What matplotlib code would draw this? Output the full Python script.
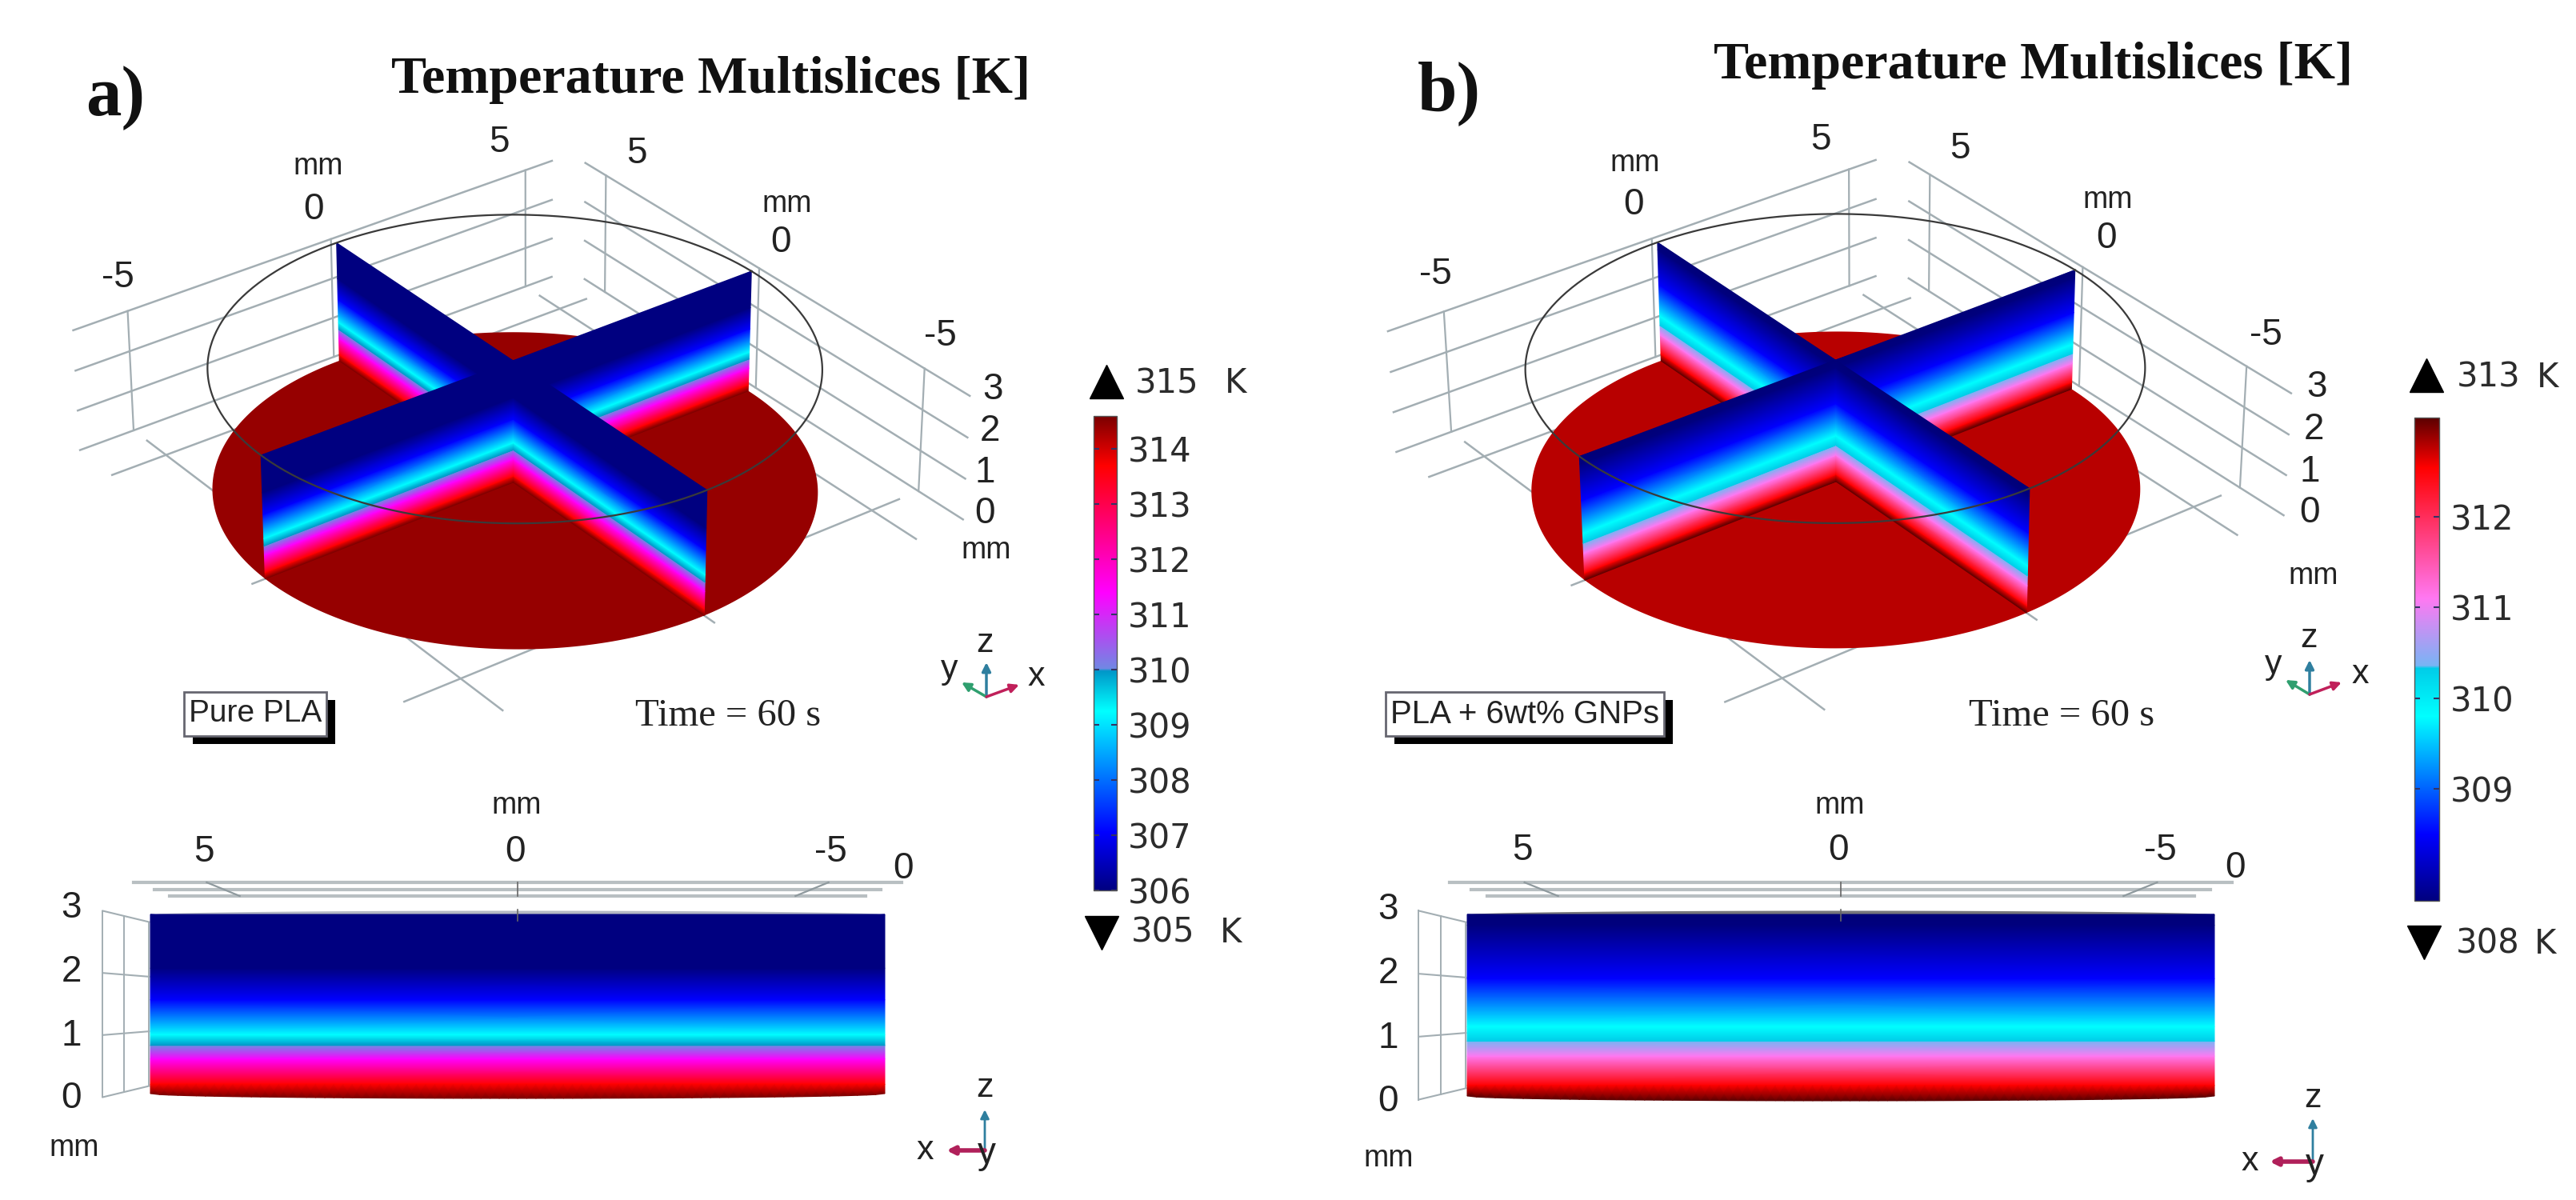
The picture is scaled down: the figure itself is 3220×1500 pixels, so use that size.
import numpy as np
import matplotlib
matplotlib.use("Agg")
import matplotlib.pyplot as plt
from matplotlib.colors import LinearSegmentedColormap, Normalize
from matplotlib.cm import ScalarMappable
import logging

logging.getLogger("matplotlib.font_manager").setLevel(logging.ERROR)

SANS = "Liberation Sans"
SERIF = "Liberation Serif"

# temperature profile through the thickness, z in mm, T in K
z_a = [0, 0.157, 0.58, 0.80, 0.81, 0.985, 1.57, 2.1, 3]
T_a = [314.6, 313.7, 311.4, 310.02, 309.98, 309.25, 307.05, 306, 306]
col_a = ["#7a0000", "#ff0000", "#ff00ff", "#7088e4", "#0096c8", "#00ffff", "#0000ff", "#000080", "#000080"]

z_b = [0, 0.176, 0.66, 0.90, 0.91, 1.147, 1.94, 2.82, 3]
T_b = [313.09, 312.54, 311.1, 310.36, 310.33, 309.8, 308.5, 307.78, 307.77]
col_b = ["#5a0000", "#ff0000", "#ff78f2", "#78b4f4", "#00cce8", "#00ffff", "#0000ff", "#000080", "#000078"]

ticks_a = [306, 307, 308, 309, 310, 311, 312, 313, 314]
ticks_b = [309, 310, 311, 312]
range_a = ["315", "305"]
range_b = ["313", "308"]

R = 6  # disc radius, mm
H = 3  # thickness, mm

# layout: pixel positions of the slice corners, (x, y, z) in mm -> image px
world = [(0, R, H), (0, R, 0), (R, 0, H), (R, 0, 0), (-R, 0, H), (-R, 0, 0), (0, -R, H), (0, -R, 0), (0, 0, H), (0, 0, 0)]
pix_a = [(422, 303), (422, 454), (939, 338), (935, 488), (325, 568), (332, 723), (882, 615), (881, 770), (643, 451), (643, 600)]
pix_b = [(2073, 301), (2076, 454), (2593, 337), (2590, 487), (1975, 571), (1980, 725), (2536, 614), (2535, 764), (2294, 449), (2294, 600)]


def camera(pix):
    rows = []
    for (x, y, z), (u, v) in zip(world, pix):
        u, v = u / 1000, v / 1000
        rows.append([x, y, z, 1, 0, 0, 0, 0, -u * x, -u * y, -u * z, -u])
        rows.append([0, 0, 0, 0, x, y, z, 1, -v * x, -v * y, -v * z, -v])
    return np.linalg.svd(np.array(rows, float))[2][-1].reshape(3, 4)


def project(P, x, y, z):
    x, y, z = np.broadcast_arrays(np.asarray(x, float), np.asarray(y, float), np.asarray(z, float))
    h = P @ np.stack([x.ravel(), y.ravel(), z.ravel(), np.ones(x.size)])
    return (1000 * h[0] / h[2]).reshape(x.shape), (1000 * h[1] / h[2]).reshape(x.shape)


fig = plt.figure(figsize=(32.2, 15), dpi=100, facecolor="white")
ax = fig.add_axes([0, 0, 1, 1])
ax.set_xlim(0, 3220)
ax.set_ylim(1500, 0)
ax.axis("off")

GRID = "#a3aeb3"
WALL = 6.2
NEAR = 5.7
FAR = -6.3


def label(x, y, s, size=33, **kw):
    ax.text(x, y, s, fontsize=size, family=SANS, ha="center", va="center", color="#222222", **kw)


def arrow(p0, p1, color, lw=2.5, ms=16):
    ax.annotate("", xy=p1, xytext=p0, arrowprops=dict(arrowstyle="-|>", color=color, lw=lw,
                                                      mutation_scale=ms, shrinkA=0, shrinkB=0))


def make_cmap(T, colors):
    norm = Normalize(min(T), max(T))
    stops = sorted(zip(norm(np.array(T)), colors), key=lambda s: s[0])
    return LinearSegmentedColormap.from_list("thermal", stops, N=2048), norm


def draw_3d(pix, z_nodes, T, cmap, norm, disc_color, texts, triad, box, time_x, title, letter):
    P = camera(pix)
    t = np.linspace(0, 2 * np.pi, 361)

    # back walls, they stop short of the corner
    for level in range(4):
        ax.plot(*project(P, [FAR, NEAR], WALL, level), color=GRID, lw=1.8, zorder=1)
        ax.plot(*project(P, WALL, [NEAR, FAR], level), color=GRID, lw=1.8, zorder=1)
    for pos in [-5, 0, 5]:
        ax.plot(*project(P, pos, WALL, [0, H]), color=GRID, lw=1.6, zorder=1)
        ax.plot(*project(P, WALL, pos, [0, H]), color=GRID, lw=1.6, zorder=1)
    # floor
    for pos in [-5, 0, 5]:
        ax.plot(*project(P, pos, [NEAR, FAR], 0), color=GRID, lw=1.8, zorder=1)
        ax.plot(*project(P, [FAR, NEAR], pos, 0), color=GRID, lw=1.8, zorder=1)

    ax.fill(*project(P, R * np.cos(t), R * np.sin(t), 0), color=disc_color, lw=0, zorder=2)

    zn = np.array(z_nodes)
    C = np.column_stack([T, T])
    arms = [((0, R), (0, 0)), ((R, 0), (0, 0)), ((-R, 0), (0, 0)), ((0, -R), (0, 0))]
    for n, (a, b) in enumerate(arms):
        xs = np.column_stack([np.full(zn.size, a[0]), np.full(zn.size, b[0])])
        ys = np.column_stack([np.full(zn.size, a[1]), np.full(zn.size, b[1])])
        zs = np.column_stack([zn, zn])
        X, Y = project(P, xs, ys, zs)
        ax.pcolormesh(X, Y, C, cmap=cmap, norm=norm, shading="gouraud", zorder=3 + n)

    ax.plot(*project(P, R * np.cos(t), R * np.sin(t), H), color="#3a3a3a", lw=1.6, zorder=8)

    for x, y, s in texts:
        label(x, y, s, size=33 if s != "mm" else 27)

    o, ztip, ytip, xtip, zl, yl, xl = triad
    arrow(o, ztip, "#2f7f9f")
    arrow(o, ytip, "#2f9f6f")
    arrow(o, xtip, "#c0205a")
    label(*zl, "z", size=31)
    label(*yl, "y", size=31)
    label(*xl, "x", size=31)

    (x0, x1, y0, y1, s, fs) = box
    ax.fill([x0 + 11, x1 + 11, x1 + 11, x0 + 11], [y0 + 10, y0 + 10, y1 + 10, y1 + 10], color="black", lw=0, zorder=9)
    ax.fill([x0, x1, x1, x0], [y0, y0, y1, y1], fc="white", ec="#666670", lw=2, zorder=10)
    ax.text((x0 + x1) / 2, (y0 + y1) / 2, s, fontsize=fs, family=SANS, ha="center", va="center",
            color="#222222", zorder=11)
    ax.text(time_x, 895, "Time = 60 s", fontsize=35, family=SERIF, ha="center", va="center", color="#222222")
    ax.text(*title, "Temperature Multislices [K]", fontsize=47.5, family=SERIF, weight="bold",
            ha="center", va="center", color="#111111")
    ax.text(*letter[:2], letter[2], fontsize=64, family=SERIF, weight="bold", ha="center", va="center",
            color="#111111")


def draw_side(left, right, top, bot, z_nodes, T, cmap, norm, cap_color, texts, triad):
    cx = (left + right) / 2
    sx = (right - left) / (2 * R)
    sz = (bot - top) / H
    SX = lambda v: cx - np.asarray(v, float) * sx

    def SZ(z, k=1.0):
        return (top + bot) / 2 - (np.asarray(z, float) - H / 2) * sz * k

    # grid lines above and left of the block
    ys = [top - 40, top - 31, top - 23]
    for half, y in zip([6.28, 5.93, 5.68], ys):
        ax.plot(SX([-half, half]), [y, y], color="#b8bfc2", lw=3, zorder=1)
    for sgn in [-1, 1]:
        ax.plot(SX([sgn * 5.08, sgn * 4.54]), [ys[0], ys[2]], color="#8f9a9e", lw=1.6, zorder=1)
    ax.plot(SX([0, 0]), [ys[0], ys[2]], color="#666666", lw=1.2, zorder=1)
    ax.plot(SX([0, 0]), [top - 6, top + 8], color="#666666", lw=1.2, zorder=6)
    for xv, k in zip([6.78, 6.43, 6.02], [1.04, 0.98, 0.915]):
        ax.plot(SX([xv, xv]), SZ([0, H], k), color=GRID, lw=1.4, zorder=1)
    for level in range(H + 1):
        ax.plot(SX([6.78, 6.02]), [SZ(level, 1.04), SZ(level, 0.915)], color=GRID, lw=1.5, zorder=1)

    # cylinder seen from the side: flat block, then the lowest layer with a sagging rim
    zn = np.array(z_nodes)
    T = np.array(T)
    ax.pcolormesh(SX([-R, R]) * np.ones((zn.size - 1, 2)), np.tile(SZ(zn[1:])[:, None], (1, 2)),
                  np.tile(T[1:, None], (1, 2)), cmap=cmap, norm=norm, shading="gouraud", zorder=3)
    x = np.linspace(-R, R, 81)
    rim = np.sqrt(1 - (x / R) ** 2)
    X = np.tile(SX(x), (2, 1))
    Y = np.array([SZ(zn[0]) + 6 * rim, np.full(x.size, SZ(zn[1]))])
    ax.pcolormesh(X, Y, np.tile(T[:2, None], (1, x.size)), cmap=cmap, norm=norm, shading="gouraud", zorder=3)
    ax.fill_between(SX(x), top - 5 * rim, top + 1, color=cap_color, lw=0, zorder=2)

    for xt, yt, s in texts:
        label(xt, yt, s, size=33 if s != "mm" else 27)

    o, ztip, xtip, zl, yl, xl = triad
    arrow(o, ztip, "#2f7f9f", lw=2)
    arrow(o, xtip, "#b0205a", lw=4, ms=14)
    label(*zl, "z", size=31)
    label(*yl, "y", size=33)
    label(*xl, "x", size=31)


def draw_bar(rect, cmap, norm, ticks, rng, tri_up, tri_dn, up_txt, dn_txt):
    x0, x1, y0, y1 = rect
    cax = fig.add_axes([x0 / 3220, 1 - y1 / 1500, (x1 - x0) / 3220, (y1 - y0) / 1500])
    cb = fig.colorbar(ScalarMappable(norm=norm, cmap=cmap), cax=cax, ticks=ticks)
    cb.outline.set_edgecolor("#555555")
    cb.outline.set_linewidth(1)
    cax.tick_params(axis="y", direction="in", left=True, right=True, length=5, width=1.5, color="#333366",
                    labelsize=30, labelcolor="#2c2c2c", pad=10)
    ax.plot(*tri_up, marker="^", ms=30, color="black", ls="none", zorder=5)
    ax.plot(*tri_dn, marker="v", ms=30, color="black", ls="none", zorder=5)
    for (xt, yt, xk), s in zip([up_txt, dn_txt], rng):
        ax.text(xt, yt, s, fontsize=30, ha="left", va="center", color="#2c2c2c")
        ax.text(xk, yt, "K", fontsize=30, ha="left", va="center", color="#2c2c2c")


cmap_a, norm_a = make_cmap(T_a, col_a)
cmap_b, norm_b = make_cmap(T_b, col_b)

draw_3d(pix_a, z_a, T_a, cmap_a, norm_a, "#960000",
        [(624, 178, "5"), (398, 208, "mm"), (392, 262, "0"), (147, 347, "-5"), (796, 192, "5"),
         (984, 255, "mm"), (976, 303, "0"), (1175, 420, "-5"), (1241, 487, "3"), (1237, 539, "2"),
         (1231, 591, "1"), (1231, 642, "0"), (1233, 688, "mm")],
        ((1233, 871), (1233, 828), (1202, 853), (1274, 856), (1231, 804), (1187, 837), (1295, 846)),
        (230, 408, 865, 920, "Pure PLA", 28), 910,
        (888, 100), (144, 123, "a)"))

draw_3d(pix_b, z_b, T_b, cmap_b, norm_b, "#b80000",
        [(2276, 175, "5"), (2044, 204, "mm"), (2042, 256, "0"), (1794, 343, "-5"), (2450, 186, "5"),
         (2635, 250, "mm"), (2633, 298, "0"), (2832, 419, "-5"), (2896, 484, "3"), (2892, 537, "2"),
         (2887, 590, "1"), (2887, 641, "0"), (2892, 720, "mm")],
        ((2887, 868), (2887, 825), (2857, 850), (2927, 853), (2886, 798), (2842, 831), (2950, 843)),
        (1732, 2080, 865, 920, "PLA + 6wt% GNPs", 29), 2577,
        (2541, 82), (1811, 117, "b)"))

draw_side(188, 1106, 1143, 1367, z_a, T_a, cmap_a, norm_a, "#b4b8c4",
          [(255, 1065, "5"), (644, 1065, "0"), (1038, 1065, "-5"), (1129, 1086, "0"), (646, 1007, "mm"),
           (89, 1135, "3"), (89, 1215, "2"), (89, 1295, "1"), (89, 1373, "0"), (93, 1435, "mm")],
          ((1231, 1438), (1231, 1387), (1183, 1438), (1231, 1360), (1233, 1442), (1156, 1438)))

draw_side(1834, 2768, 1143, 1370, z_b, T_b, cmap_b, norm_b, "#77777c",
          [(1903, 1063, "5"), (2298, 1063, "0"), (2700, 1063, "-5"), (2794, 1085, "0"), (2300, 1007, "mm"),
           (1735, 1137, "3"), (1735, 1217, "2"), (1735, 1298, "1"), (1735, 1377, "0"), (1736, 1448, "mm")],
          ((2891, 1452), (2891, 1398), (2837, 1452), (2891, 1373), (2893, 1456), (2812, 1452)))

draw_bar((1367, 1396, 520, 1113), cmap_a, norm_a, ticks_a, range_a,
         (1383, 477), (1377, 1166), (1419, 479, 1531), (1414, 1166, 1525))
draw_bar((3018, 3049, 522, 1126), cmap_b, norm_b, ticks_b, range_b,
         (3033, 469), (3030, 1178), (3071, 472, 3171), (3070, 1180, 3168))

fig.savefig("out.png", dpi=100, facecolor="white")
